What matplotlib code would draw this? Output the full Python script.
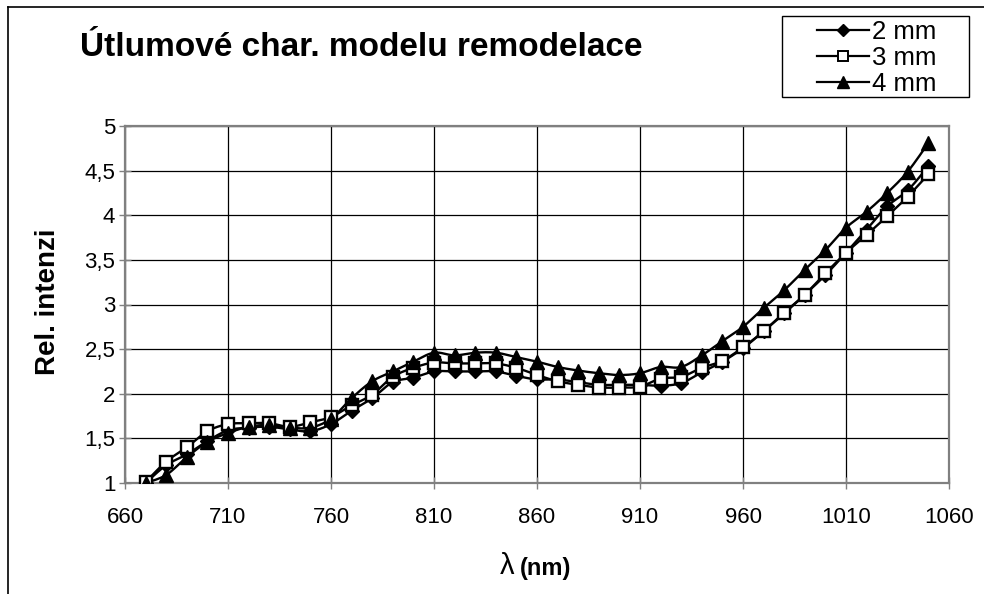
import numpy as np
import matplotlib
matplotlib.use("Agg")
import matplotlib.pyplot as plt
from matplotlib.lines import Line2D
from matplotlib.patches import Rectangle
from matplotlib.ticker import FuncFormatter, MultipleLocator

plt.rcParams['font.family'] = ['Liberation Sans', 'DejaVu Sans']

wavelength = [670, 680, 690, 700, 710, 720, 730, 740, 750, 760,
              770, 780, 790, 800, 810, 820, 830, 840, 850, 860,
              870, 880, 890, 900, 910, 920, 930, 940, 950, 960,
              970, 980, 990, 1000, 1010, 1020, 1030, 1040, 1050]

mm2 = [1.00, 1.20, 1.32, 1.47, 1.59, 1.62, 1.63, 1.60, 1.58, 1.66,
       1.81, 1.95, 2.13, 2.18, 2.25, 2.25, 2.25, 2.25, 2.20, 2.16,
       2.16, 2.13, 2.10, 2.10, 2.10, 2.09, 2.12, 2.24, 2.36, 2.51,
       2.70, 2.90, 3.11, 3.33, 3.58, 3.84, 4.10, 4.28, 4.55]

mm3 = [1.01, 1.24, 1.40, 1.58, 1.66, 1.67, 1.67, 1.63, 1.68, 1.74,
       1.87, 1.99, 2.19, 2.29, 2.35, 2.34, 2.34, 2.34, 2.29, 2.21,
       2.14, 2.10, 2.07, 2.07, 2.08, 2.17, 2.19, 2.29, 2.37, 2.52,
       2.70, 2.91, 3.11, 3.35, 3.58, 3.78, 3.99, 4.21, 4.46]

mm4 = [1.00, 1.09, 1.29, 1.46, 1.56, 1.63, 1.65, 1.62, 1.62, 1.72,
       1.95, 2.14, 2.25, 2.36, 2.46, 2.43, 2.46, 2.46, 2.41, 2.36,
       2.30, 2.26, 2.23, 2.21, 2.23, 2.30, 2.30, 2.43, 2.59, 2.75,
       2.96, 3.16, 3.39, 3.61, 3.86, 4.04, 4.25, 4.49, 4.81]

series_labels = ["2 mm", "3 mm", "4 mm"]
x_ticks = [660, 710, 760, 810, 860, 910, 960, 1010, 1060]

W, H = 984, 594


def smooth(x, y, n=16):
    """Excel-like smoothed line (Catmull-Rom / cubic Bezier) through the points."""
    x = np.asarray(x, float)
    y = np.asarray(y, float)
    px = np.concatenate([[x[0]], x, [x[-1]]])
    py = np.concatenate([[y[0]], y, [y[-1]]])
    xs, ys = [], []
    t = np.linspace(0, 1, n, endpoint=False)
    for i in range(1, len(px) - 2):
        p0x, p1x, p2x, p3x = px[i - 1], px[i], px[i + 1], px[i + 2]
        p0y, p1y, p2y, p3y = py[i - 1], py[i], py[i + 1], py[i + 2]
        c1x = p1x + (p2x - p0x) / 6
        c1y = p1y + (p2y - p0y) / 6
        c2x = p2x - (p3x - p1x) / 6
        c2y = p2y - (p3y - p1y) / 6
        b0 = (1 - t) ** 3
        b1 = 3 * (1 - t) ** 2 * t
        b2 = 3 * (1 - t) * t ** 2
        b3 = t ** 3
        xs.append(b0 * p1x + b1 * c1x + b2 * c2x + b3 * p2x)
        ys.append(b0 * p1y + b1 * c1y + b2 * c2y + b3 * p2y)
    xs.append([x[-1]])
    ys.append([y[-1]])
    return np.concatenate(xs), np.concatenate(ys)


fig = plt.figure(figsize=(W / 100, H / 100), dpi=100)
ax = fig.add_axes([125 / W, 1 - 483 / H, (949 - 125) / W, (483 - 126) / H])

styles = [
    dict(marker='D', markersize=7.5, markerfacecolor='black', markeredgecolor='black'),
    dict(marker='s', markersize=8.5, markerfacecolor='white', markeredgecolor='black', markeredgewidth=1.7),
    dict(marker='^', markersize=10.5, markerfacecolor='black', markeredgecolor='black'),
]

for vals, st in zip([mm2, mm3, mm4], styles):
    sx, sy = smooth(wavelength, vals)
    ax.plot(sx, sy, color='black', lw=1.7, zorder=3)
    ax.plot(wavelength, vals, ls='none', zorder=4, **st)

ax.set_xlim(660, 1060)
ax.set_ylim(1, 5)
ax.set_xticks(x_ticks)
ax.yaxis.set_major_locator(MultipleLocator(0.5))
ax.yaxis.set_major_formatter(FuncFormatter(lambda v, p: (f"{v:g}").replace('.', ',')))
ax.grid(True, color='black', lw=0.9)
ax.set_axisbelow(True)
for s in ax.spines.values():
    s.set_color('#808080')
    s.set_linewidth(1.6)
ax.tick_params(direction='inout', length=8, width=1, color='#808080', labelsize=16)
ax.tick_params(axis='y', pad=3)
ax.tick_params(axis='x', pad=13)

fig.text(48 / W, 1 - 302 / H, "Rel. intenzi", fontsize=20, fontweight='bold',
         rotation=90, ha='center', va='center')
fig.text(514 / W, 1 - 566 / H, "λ", fontsize=21, ha='right', va='center')
fig.text(520 / W, 1 - 568 / H, "(nm)", fontsize=17, fontweight='bold', ha='left', va='center')

fig.text(80 / W, 1 - 56 / H, "Útlumové char. modelu remodelace", fontsize=24,
         fontweight='bold', ha='left', va='baseline')

leg_styles = [
    dict(marker='D', markersize=6.5, markerfacecolor='black', markeredgecolor='black'),
    dict(marker='s', markersize=7, markerfacecolor='white', markeredgecolor='black', markeredgewidth=1.4),
    dict(marker='^', markersize=9, markerfacecolor='black', markeredgecolor='black'),
]
handles = [Line2D([0], [0], color='black', lw=1.6, **st) for st in leg_styles]
leg = fig.legend(handles, series_labels, loc='center', bbox_to_anchor=(877 / W, 1 - 58 / H),
                 frameon=False, fontsize=18.5,
                 handlelength=2.0, handletextpad=0.15, labelspacing=0.08, borderpad=0,
                 borderaxespad=0)

fig.add_artist(Rectangle((782 / W, 1 - 97 / H), (969 - 782) / W, (97 - 16) / H,
                         transform=fig.transFigure, fill=False, edgecolor='black', lw=1.0))

fig.add_artist(Line2D([8 / W, 8 / W], [0, 1 - 7 / H], color='black', lw=1.2, transform=fig.transFigure))
fig.add_artist(Line2D([8 / W, 1], [1 - 7 / H, 1 - 7 / H], color='black', lw=1.2, transform=fig.transFigure))

fig.savefig("out.png", dpi=100)
